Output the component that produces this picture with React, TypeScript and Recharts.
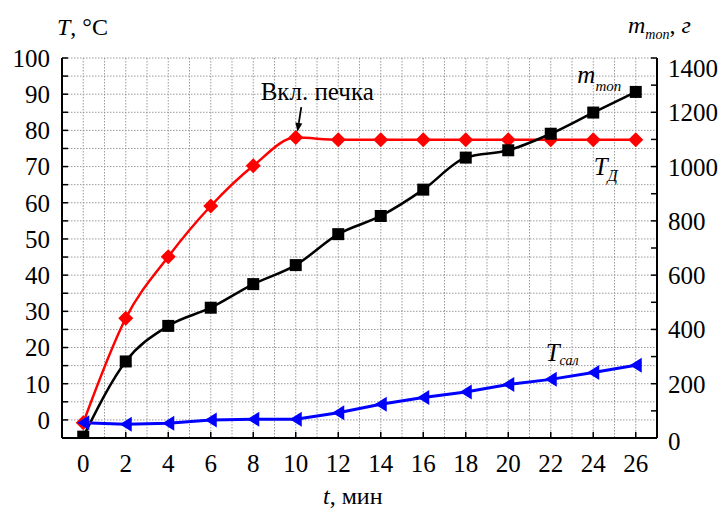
import React from 'react';
import { LineChart, Line, XAxis, YAxis, CartesianGrid, ReferenceDot, ReferenceLine } from 'recharts';

// time, min
const time = [0, 2, 4, 6, 8, 10, 12, 14, 16, 18, 20, 22, 24, 26];
// T_Д, °C (left axis)
const tempD = [-0.8, 28.1, 45.1, 59.1, 70.2, 78.0, 77.4, 77.4, 77.4, 77.4, 77.4, 77.4, 77.4, 77.4];
// m_топ, г (right axis)
const massTop = [5, 282, 413, 480, 567, 637, 751, 818, 915, 1033, 1060, 1121, 1199, 1275];
// T_сал, °C (left axis)
const tempSal = [-0.8, -1.2, -0.9, 0, 0.2, 0.2, 2.0, 4.3, 6.2, 7.7, 9.8, 11.2, 13.1, 15.1];

// x ticks every minute (grid), labelled every 2 minutes
const xTicks = [0, 1, 2, 3, 4, 5, 6, 7, 8, 9, 10, 11, 12, 13, 14, 15, 16, 17, 18, 19, 20, 21, 22, 23, 24, 25, 26];
const leftTicks = [0, 5, 10, 15, 20, 25, 30, 35, 40, 45, 50, 55, 60, 65, 70, 75, 80, 85, 90, 95, 100];
const rightTicks = [0, 100, 200, 300, 400, 500, 600, 700, 800, 900, 1000, 1100, 1200, 1300, 1400];

const xDomain: [number, number] = [-1, 27];
const leftDomain: [number, number] = [-5, 100];
const rightDomain: [number, number] = [0, 1400];

const data = time.map((t, i) => ({ t, tempD: tempD[i], mass: massTop[i], tempSal: tempSal[i] }));

const FONT = '"Liberation Serif", "Times New Roman", serif';

const Diamond = (p: any) => {
  const { cx, cy, index } = p;
  if (cx == null || cy == null) return <g key={`d${index}`} />;
  const s = 7.5;
  return (
    <polygon key={`d${index}`} points={`${cx},${cy - s} ${cx + s},${cy} ${cx},${cy + s} ${cx - s},${cy}`} fill="#ff0000" />
  );
};

const Square = (p: any) => {
  const { cx, cy, index } = p;
  if (cx == null || cy == null) return <g key={`s${index}`} />;
  const s = 6;
  return <rect key={`s${index}`} x={cx - s} y={cy - s} width={2 * s} height={2 * s} fill="#000" />;
};

const TriLeft = (p: any) => {
  const { cx, cy, index } = p;
  if (cx == null || cy == null) return <g key={`t${index}`} />;
  return (
    <polygon key={`t${index}`} points={`${cx - 6},${cy} ${cx + 6},${cy - 7.5} ${cx + 6},${cy + 7.5}`} fill="#0000ff" />
  );
};

// bottom tick: inward tick mark + label only at even minutes
const BottomTick = (p: any) => {
  const { x, y, payload } = p;
  const v = payload.value;
  if (v % 2 !== 0) return <g />;
  return (
    <g>
      <line x1={x} y1={y} x2={x} y2={y - 6} stroke="#000" strokeWidth={1.5} />
      <text x={x} y={y + 34} textAnchor="middle" fontFamily={FONT} fontSize={25} fill="#000">
        {v}
      </text>
    </g>
  );
};

const RightTick = (p: any) => {
  const { x, y, payload } = p;
  const v = payload.value;
  if (v % 200 !== 0) return <g />;
  const shift = v === 1400 ? 10 : v === 0 ? 3 : 0;
  return (
    <text x={x} y={y + shift} dy="0.36em" textAnchor="start" fontFamily={FONT} fontSize={25} fill="#000">
      {v}
    </text>
  );
};

const Arrow = (p: any) => {
  const { x1, y1, x2, y2 } = p;
  const dx = x2 - x1;
  const dy = y2 - y1;
  const len = Math.hypot(dx, dy) || 1;
  const ux = dx / len;
  const uy = dy / len;
  const hl = 9;
  const hw = 3.5;
  const bx = x2 - ux * hl;
  const by = y2 - uy * hl;
  return (
    <g>
      <line x1={x1} y1={y1} x2={bx} y2={by} stroke="#000" strokeWidth={1.8} />
      <polygon points={`${x2},${y2} ${bx - uy * hw},${by + ux * hw} ${bx + uy * hw},${by - ux * hw}`} fill="#000" />
    </g>
  );
};

const textShape = (render: (x: number, y: number) => React.ReactElement) => (p: any) => render(p.cx, p.cy);

export default function App() {
  return (
    <div style={{ position: 'absolute', left: 0, top: 0, width: 720, height: 509, background: '#fff' }}>
      <LineChart width={720} height={509} data={data} margin={{ top: 58, right: 0, bottom: 31, left: 0 }}>
        <CartesianGrid xAxisId="x" yAxisId="left" stroke="#9a9a9a" strokeDasharray="1.5 1.5" strokeWidth={1} />
        <XAxis
          xAxisId="top"
          orientation="top"
          type="number"
          dataKey="t"
          domain={xDomain}
          allowDataOverflow
          height={0}
          tick={false}
          tickLine={false}
          axisLine={{ stroke: '#000', strokeWidth: 2 }}
        />
        <XAxis
          xAxisId="x"
          type="number"
          dataKey="t"
          domain={xDomain}
          allowDataOverflow
          ticks={xTicks}
          interval={0}
          height={40}
          tickSize={0}
          tickMargin={0}
          tickLine={false}
          axisLine={{ stroke: '#000', strokeWidth: 2 }}
          tick={<BottomTick />}
        />
        <YAxis
          yAxisId="left"
          type="number"
          domain={leftDomain}
          allowDataOverflow
          ticks={leftTicks}
          interval={0}
          width={62}
          tickSize={-6}
          tickMargin={18}
          tickFormatter={(v: number) => (v % 10 === 0 ? String(v) : '')}
          axisLine={{ stroke: '#000', strokeWidth: 2 }}
          tickLine={{ stroke: '#000', strokeWidth: 1.5 }}
          tick={{ fontFamily: FONT, fontSize: 25, fill: '#000' }}
        />
        <YAxis
          yAxisId="right"
          orientation="right"
          type="number"
          domain={rightDomain}
          allowDataOverflow
          ticks={rightTicks}
          interval={0}
          width={63}
          tickSize={-6}
          tickMargin={17}
          axisLine={{ stroke: '#000', strokeWidth: 2 }}
          tickLine={{ stroke: '#000', strokeWidth: 1.5 }}
          tick={<RightTick />}
        />
        <Line
          xAxisId="x"
          yAxisId="left"
          type="monotone"
          dataKey="tempD"
          stroke="#ff0000"
          strokeWidth={2.5}
          dot={Diamond}
          activeDot={false}
          isAnimationActive={false}
        />
        <Line
          xAxisId="x"
          yAxisId="right"
          type="monotone"
          dataKey="mass"
          stroke="#000"
          strokeWidth={2.5}
          dot={Square}
          activeDot={false}
          isAnimationActive={false}
        />
        <Line
          xAxisId="x"
          yAxisId="left"
          type="linear"
          dataKey="tempSal"
          stroke="#0000ff"
          strokeWidth={3}
          dot={TriLeft}
          activeDot={false}
          isAnimationActive={false}
        />
        <ReferenceLine
          xAxisId="x"
          yAxisId="left"
          segment={[{ x: 10.26, y: 86.4 }, { x: 10.08, y: 79.6 }]}
          shape={Arrow}
        />
        <ReferenceDot
          xAxisId="x"
          yAxisId="left"
          x={8.35}
          y={88.4}
          r={1}
          shape={textShape((x, y) => (
            <text x={x} y={y} fontFamily={FONT} fontSize={25} fill="#000">Вкл. печка</text>
          ))}
        />
        <ReferenceDot
          xAxisId="x"
          yAxisId="left"
          x={23.25}
          y={93.1}
          r={1}
          shape={textShape((x, y) => (
            <text x={x} y={y} fontFamily={FONT} fill="#000" fontStyle="italic">
              <tspan fontSize={25}>m</tspan>
              <tspan fontSize={15} dy={8}>топ</tspan>
            </text>
          ))}
        />
        <ReferenceDot
          xAxisId="x"
          yAxisId="left"
          x={24.02}
          y={67.7}
          r={1}
          shape={textShape((x, y) => (
            <text x={x} y={y} fontFamily={FONT} fill="#000" fontStyle="italic">
              <tspan fontSize={25}>T</tspan>
              <tspan fontSize={16} dy={6}>Д</tspan>
            </text>
          ))}
        />
        <ReferenceDot
          xAxisId="x"
          yAxisId="left"
          x={21.76}
          y={16.3}
          r={1}
          shape={textShape((x, y) => (
            <text x={x} y={y} fontFamily={FONT} fill="#000" fontStyle="italic">
              <tspan fontSize={25}>T</tspan>
              <tspan fontSize={14} dy={4}>сал</tspan>
            </text>
          ))}
        />
      </LineChart>
      <svg width={720} height={509} style={{ position: 'absolute', left: 0, top: 0, pointerEvents: 'none' }}>
        <text x={57} y={35} fontFamily={FONT} fontSize={24} fill="#000">
          <tspan fontStyle="italic">T</tspan>
          <tspan>, °C</tspan>
        </text>
        <text x={628} y={33} fontFamily={FONT} fill="#000">
          <tspan fontSize={24} fontStyle="italic">m</tspan>
          <tspan fontSize={14} fontStyle="italic" dy={6}>топ</tspan>
          <tspan fontSize={24} dy={-6}>, </tspan>
          <tspan fontSize={24} fontStyle="italic">г</tspan>
        </text>
        <text x={323} y={504} fontFamily={FONT} fontSize={24} fill="#000">
          <tspan fontStyle="italic">t</tspan>
          <tspan>, мин</tspan>
        </text>
      </svg>
    </div>
  );
}
